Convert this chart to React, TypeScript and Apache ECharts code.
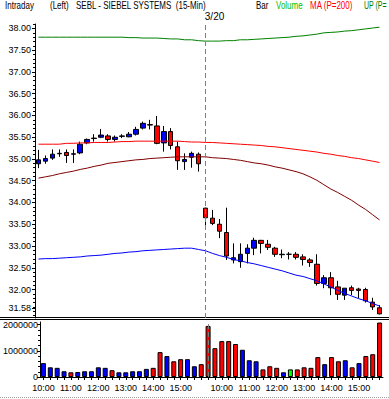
import React, { useEffect, useRef } from 'react';
import * as echarts from 'echarts';

const day1Times = ['10:00','10:15','10:30','10:45','11:00','11:15','11:30','11:45','12:00','12:15','12:30','12:45','13:00','13:15','13:30','13:45','14:00','14:15','14:30','14:45','15:00','15:15','15:30','15:45'];
const day2Times = ['9:30','9:45','10:00','10:15','10:30','10:45','11:00','11:15','11:30','11:45','12:00','12:15','12:30','12:45','13:00','13:15','13:30','13:45','14:00','14:15','14:30','14:45','15:00','15:15','15:30','15:45'];

// [open, close, low, high]
const day1Bars = [
  [34.89, 34.98, 34.79, 35.21],[34.95, 35.01, 34.89, 35.08],[35.02, 35.11, 34.98, 35.22],[35.12, 35.13, 35.05, 35.22],
  [35.15, 35.08, 34.91, 35.22],[35.11, 35.12, 34.91, 35.22],[35.14, 35.34, 35.11, 35.40],[35.37, 35.45, 35.34, 35.47],
  [35.47, 35.48, 35.40, 35.57],[35.50, 35.55, 35.48, 35.69],[35.53, 35.45, 35.40, 35.57],[35.45, 35.50, 35.40, 35.54],
  [35.52, 35.53, 35.48, 35.57],[35.51, 35.57, 35.50, 35.62],[35.57, 35.68, 35.54, 35.74],[35.71, 35.82, 35.68, 35.86],
  [35.79, 35.78, 35.68, 35.90],[35.76, 35.36, 35.34, 35.99],[35.37, 35.63, 35.17, 35.76],[35.63, 35.31, 35.22, 35.71],
  [35.28, 34.96, 34.75, 35.40],[34.94, 34.99, 34.75, 35.13],[35.04, 35.13, 34.80, 35.17],[35.11, 34.89, 34.71, 35.15]
];
const day2Bars = [
  [33.87, 33.65, 33.44, 33.88],[33.64, 33.52, 33.48, 33.83],[33.50, 33.34, 33.18, 33.62],[33.31, 32.77, 32.68, 33.88],
  [32.68, 32.73, 32.60, 33.06],[32.64, 32.81, 32.50, 33.06],[32.83, 32.95, 32.60, 33.04],[32.95, 33.13, 32.79, 33.19],
  [33.13, 33.06, 32.83, 33.14],[33.04, 32.97, 32.91, 33.14],[32.95, 32.81, 32.75, 32.98],[32.80, 32.81, 32.72, 32.92],
  [32.81, 32.81, 32.69, 32.86],[32.81, 32.74, 32.69, 32.86],[32.75, 32.69, 32.55, 32.81],[32.68, 32.62, 32.52, 32.72],
  [32.58, 32.14, 32.09, 32.81],[32.14, 32.27, 32.03, 32.33],[32.27, 32.04, 31.87, 32.40],[32.06, 31.89, 31.76, 32.20],
  [31.87, 32.03, 31.76, 32.03],[32.04, 31.98, 31.87, 32.09],[32.01, 31.98, 31.80, 32.04],[32.00, 31.74, 31.70, 32.04],
  [31.71, 31.60, 31.53, 31.81],[31.58, 31.44, 31.43, 31.64]
];

const day1Volume = [530000, 370000, 350000, 220000, 180000, 190000, 220000, 220000, 370000, 350000, 260000, 180000, 180000, 220000, 220000, 310000, 350000, 950000, 800000, 600000, 680000, 680000, 410000, 490000];
const day2Volume = [1950000, 1100000, 1370000, 1370000, 1260000, 1040000, 640000, 600000, 290000, 410000, 350000, 180000, 290000, 290000, 370000, 350000, 760000, 490000, 760000, 600000, 640000, 370000, 530000, 800000, 870000, 2080000];
const day1VolDir = ['up','up','up','up','down','up','up','up','up','up','down','up','up','up','up','up','down','down','up','down','down','up','up','down'];
const day2VolDir = ['down','down','down','down','down','up','up','up','down','down','down','up','flat','down','down','down','down','up','down','down','up','down','up','down','down','down'];

const day1Upper = [37.80,37.80,37.80,37.80,37.80,37.80,37.80,37.80,37.80,37.80,37.80,37.80,37.80,37.79,37.79,37.78,37.78,37.78,37.77,37.76,37.76,37.74,37.74,37.72];
const day2Upper = [37.71,37.71,37.71,37.72,37.72,37.74,37.74,37.75,37.76,37.77,37.78,37.79,37.80,37.82,37.83,37.85,37.87,37.90,37.91,37.92,37.94,37.95,37.97,37.99,38.01,38.03];
const day1MA = [35.34,35.34,35.34,35.34,35.36,35.36,35.37,35.37,35.38,35.38,35.38,35.39,35.40,35.40,35.41,35.41,35.41,35.41,35.41,35.41,35.41,35.40,35.39,35.39];
const day2MA = [35.38,35.38,35.37,35.36,35.35,35.34,35.33,35.32,35.31,35.29,35.28,35.26,35.24,35.22,35.20,35.18,35.16,35.13,35.11,35.08,35.06,35.03,35.01,34.98,34.95,34.92];
const day1Mid = [34.56,34.59,34.62,34.66,34.69,34.72,34.76,34.79,34.83,34.86,34.90,34.92,34.94,34.96,34.98,34.99,35.01,35.02,35.03,35.04,35.05,35.05,35.05,35.05];
const day2Mid = [35.05,35.03,35.02,35.01,34.99,34.97,34.94,34.91,34.89,34.86,34.82,34.79,34.75,34.71,34.66,34.59,34.51,34.41,34.31,34.23,34.14,34.05,33.94,33.84,33.72,33.60];
const day1Lower = [32.70,32.71,32.71,32.72,32.73,32.74,32.75,32.77,32.78,32.79,32.81,32.83,32.84,32.86,32.87,32.89,32.90,32.91,32.92,32.93,32.94,32.95,32.95,32.92];
const day2Lower = [32.89,32.83,32.78,32.74,32.69,32.66,32.62,32.59,32.55,32.51,32.47,32.43,32.38,32.33,32.30,32.25,32.20,32.13,32.06,31.98,31.91,31.85,31.79,31.74,31.68,31.62];

const priceLabels = [31.58, 32, 32.5, 33, 33.5, 34, 34.5, 35, 35.5, 36, 36.5, 37, 37.5, 38];
const volumeLabels = [0, 1000000, 2000000];
const sessionLabel = '3/20';
const sessionStart = '9:30';

const FONT = '"Liberation Sans", Arial, sans-serif';
const PRICE_MIN = 31.345;
const PRICE_MAX = 38.103;
const VOL_MAX = 2100000;

export default function App() {
  const ref = useRef<HTMLDivElement>(null);
  useEffect(() => {
    if (!ref.current) return;
    const chart = echarts.init(ref.current, null, { renderer: 'svg' });
    const categories = [...day1Times, ...day2Times];
    const bars = [...day1Bars, ...day2Bars];
    const vols = [...day1Volume, ...day2Volume];
    const dirs = [...day1VolDir, ...day2VolDir];
    const dirColor: Record<string, string> = { up: '#0000ff', down: '#ff0000', flat: '#00ff00' };
    const minorPrice: number[] = [];
    for (let k = 314; k <= 381; k++) minorPrice.push(k / 10);
    const minorVol: number[] = [];
    for (let k = 0; k <= 10; k++) minorVol.push(k * 200000);

    const dashed = { type: [5, 3] as any, color: '#808080', width: 1 };
    const headerText = (text: string, x: number, fill: string, sx = 0.8) => ({
      type: 'text', x, y: 1, scaleX: sx, silent: true,
      style: { text, fill, font: '10px ' + FONT },
    });

    const option: any = {
      animation: false,
      backgroundColor: '#ffffff',
      grid: [
        { left: 35, right: 6, top: 24, height: 294 },
        { left: 35, right: 6, top: 322, height: 55 },
      ],
      xAxis: [
        { type: 'category', gridIndex: 0, data: categories, boundaryGap: true,
          axisLine: { show: false }, axisTick: { show: false }, axisLabel: { show: false }, splitLine: { show: false } },
        { type: 'category', gridIndex: 1, data: categories, boundaryGap: true,
          axisLine: { show: true, lineStyle: { color: '#000', width: 1 } },
          axisTick: { show: true, interval: 0, alignWithLabel: true, length: 3, lineStyle: { color: '#000' } },
          axisLabel: { interval: (_i: number, v: string) => v.endsWith(':00'), fontSize: 9, color: '#000', fontFamily: FONT, margin: 6 },
          splitLine: { show: false } },
      ],
      yAxis: [
        { type: 'value', gridIndex: 0, min: PRICE_MIN, max: PRICE_MAX, position: 'left',
          axisLine: { show: true, lineStyle: { color: '#000', width: 1 } },
          axisTick: { show: true, length: 3, customValues: priceLabels, lineStyle: { color: '#000' } },
          axisLabel: { show: true, customValues: priceLabels, formatter: (v: number) => v.toFixed(2), fontSize: 9, color: '#000', fontFamily: FONT, margin: 4 },
          splitLine: { show: false } },
        { type: 'value', gridIndex: 0, min: PRICE_MIN, max: PRICE_MAX, position: 'left', offset: 0,
          axisLine: { show: false },
          axisTick: { show: true, length: 2, customValues: minorPrice, lineStyle: { color: '#000' } },
          axisLabel: { show: false }, splitLine: { show: false } },
        { type: 'value', gridIndex: 1, min: 0, max: VOL_MAX, position: 'left',
          axisLine: { show: true, lineStyle: { color: '#000', width: 1 } },
          axisTick: { show: true, length: 3, customValues: volumeLabels, lineStyle: { color: '#000' } },
          axisLabel: { show: true, customValues: volumeLabels, formatter: (v: number) => String(v), fontSize: 9, color: '#000', fontFamily: FONT, margin: 2 },
          splitLine: { show: false } },
        { type: 'value', gridIndex: 1, min: 0, max: VOL_MAX, position: 'left', offset: 0,
          axisLine: { show: false },
          axisTick: { show: true, length: 2, customValues: minorVol, lineStyle: { color: '#000' } },
          axisLabel: { show: false }, splitLine: { show: false } },
      ],
      series: [
        { type: 'line', xAxisIndex: 0, yAxisIndex: 0, data: [...day1Upper, ...day2Upper], symbol: 'none', silent: true,
          lineStyle: { color: '#008000', width: 1 } },
        { type: 'line', xAxisIndex: 0, yAxisIndex: 0, data: [...day1MA, ...day2MA], symbol: 'none', silent: true,
          lineStyle: { color: '#ff0000', width: 1 } },
        { type: 'line', xAxisIndex: 0, yAxisIndex: 0, data: [...day1Mid, ...day2Mid], symbol: 'none', silent: true,
          lineStyle: { color: '#800000', width: 1 } },
        { type: 'line', xAxisIndex: 0, yAxisIndex: 0, data: [...day1Lower, ...day2Lower], symbol: 'none', silent: true,
          lineStyle: { color: '#0000ff', width: 1 } },
        { type: 'candlestick', xAxisIndex: 0, yAxisIndex: 0, data: bars, barWidth: 5,
          itemStyle: { color: '#0000ff', color0: '#ff0000', borderColor: '#000000', borderColor0: '#000000', borderWidth: 1 },
          markLine: { symbol: ['none', 'none'], silent: true, lineStyle: dashed,
            label: { show: true, position: 'end', formatter: sessionLabel, fontSize: 10, color: '#000', fontFamily: FONT, distance: 3, offset: [9, 0] },
            data: [{ xAxis: sessionStart }] } },
        { type: 'bar', xAxisIndex: 1, yAxisIndex: 2, barWidth: 5,
          data: vols.map((v, i) => ({ value: v, itemStyle: { color: dirColor[dirs[i]] } })),
          itemStyle: { borderColor: '#000', borderWidth: 1 },
          markLine: { symbol: ['none', 'none'], silent: true, lineStyle: dashed, label: { show: false },
            data: [{ xAxis: sessionStart }] } },
      ],
      graphic: [
        headerText('Intraday', 5, '#000'),
        headerText('(Left)', 50, '#000'),
        headerText('SEBL - SIEBEL SYSTEMS  (15-Min)', 76, '#000'),
        headerText('Bar', 256, '#000'),
        headerText('Volume', 276, '#00c000'),
        headerText('MA (P=200)', 310, '#ff0000'),
        headerText('UP (P=', 364, '#008000', 0.7),
        { type: 'line', silent: true, shape: { x1: 0, y1: 317.5, x2: 389, y2: 317.5 }, style: { stroke: '#000', lineWidth: 1 } },
        { type: 'line', silent: true, shape: { x1: 0, y1: 319.5, x2: 389, y2: 319.5 }, style: { stroke: '#000', lineWidth: 1 } },
        { type: 'line', silent: true, shape: { x1: 0, y1: 397.5, x2: 389, y2: 397.5 }, style: { stroke: '#a0a0a0', lineWidth: 1, lineDash: [1, 1] } },
      ],
    };
    chart.setOption(option);
    return () => chart.dispose();
  }, []);
  return <div ref={ref} style={{ position: 'fixed', left: 0, top: 0, width: 389, height: 399 }} />;
}
